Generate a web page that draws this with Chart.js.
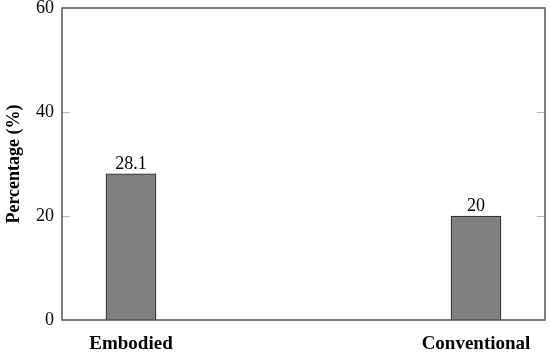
<!DOCTYPE html>
<html>
<head>
<meta charset="utf-8">
<script src="https://cdn.jsdelivr.net/npm/chart.js@4"></script>
<style>
  html, body { margin: 0; padding: 0; background: #fff; }
  #wrap { width: 550px; height: 354px; }
</style>
</head>
<body>
<div id="wrap"><canvas id="chart" width="550" height="354"></canvas></div>
<script>
const categories = ['Embodied', 'Conventional'];
const percentages = [28.1, 20];
const yTicks = [0, 20, 40, 60];

const FONT = "'Liberation Serif', serif";

// box around the plot plus short inward tick marks, as in the original
const frameAndLabels = {
    id: 'frameAndLabels',
    afterDatasetsDraw(chart) {
        const { ctx, chartArea: a, scales } = chart;
        ctx.save();
        ctx.strokeStyle = '#bbbbbb';
        ctx.lineWidth = 1;
        yTicks.forEach(v => {
            if (v === 0 || v === 60) return;
            const y = Math.round(scales.y.getPixelForValue(v)) + 0.5;
            ctx.beginPath();
            ctx.moveTo(a.left, y); ctx.lineTo(a.left + 8, y);
            ctx.moveTo(a.right - 8, y); ctx.lineTo(a.right, y);
            ctx.stroke();
        });
        ctx.strokeStyle = '#555555';
        ctx.lineWidth = 1.5;
        ctx.strokeRect(a.left, a.top, a.right - a.left, a.bottom - a.top);

        // value labels above bars
        ctx.fillStyle = '#000';
        ctx.font = '18px ' + FONT;
        ctx.textAlign = 'center';
        ctx.textBaseline = 'alphabetic';
        chart.getDatasetMeta(0).data.forEach((bar, i) => {
            ctx.fillText(String(percentages[i]), bar.x, bar.y - 5);
        });
        ctx.restore();
    }
};

new Chart(document.getElementById('chart').getContext('2d'), {
    type: 'bar',
    data: {
        datasets: [{
            data: percentages.map((v, i) => ({ x: i, y: v })),
            backgroundColor: '#808080',
            borderColor: '#222222',
            borderWidth: 1,
            barThickness: 50
        }]
    },
    options: {
        responsive: false,
        animation: false,
        layout: { padding: { top: 8, right: 5, left: 0, bottom: 0 } },
        plugins: {
            legend: { display: false },
            tooltip: { enabled: false }
        },
        scales: {
            x: {
                type: 'linear',
                offset: false,
                min: -0.2,
                max: 1.2,
                grid: { display: false, offset: false, drawTicks: false },
                border: { display: false },
                afterBuildTicks: s => { s.ticks = categories.map((c, i) => ({ value: i })); },
                afterFit: s => { s.height = 34; s.paddingLeft = 0; s.paddingRight = 0; },
                ticks: {
                    autoSkip: false,
                    maxRotation: 0,
                    padding: 13,
                    color: '#000',
                    font: { family: FONT, size: 19, weight: 'bold' },
                    callback: v => categories[v]
                }
            },
            y: {
                min: 0,
                max: 60,
                grid: { display: false, drawTicks: false },
                border: { display: false },
                afterBuildTicks: s => { s.ticks = yTicks.map(v => ({ value: v })); },
                afterFit: s => { s.width = 62; s.paddingTop = 0; s.paddingBottom = 0; },
                title: {
                    display: true,
                    text: 'Percentage (%)',
                    color: '#000',
                    padding: { top: 4, bottom: 0 },
                    font: { family: FONT, size: 18, weight: 'bold' }
                },
                ticks: {
                    padding: 8,
                    color: '#000',
                    font: { family: FONT, size: 18 }
                }
            }
        }
    },
    plugins: [frameAndLabels]
});
</script>
</body>
</html>
